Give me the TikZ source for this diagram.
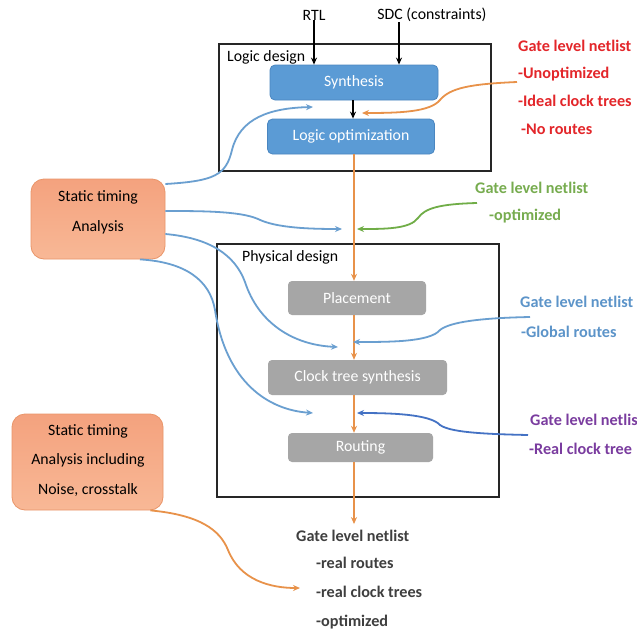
\documentclass[tikz,border=0pt]{standalone}
\usepackage{fontspec}
\setmainfont{Carlito}
\usetikzlibrary{arrows.meta,calc}
\definecolor{bluefill}{HTML}{5B9BD5}
\definecolor{blueedge}{HTML}{4A86C0}
\definecolor{greyfill}{HTML}{A6A6A6}
\definecolor{orangeline}{HTML}{E8924A}
\definecolor{blueline}{HTML}{6A9FD0}
\definecolor{darkblueline}{HTML}{4472C4}
\definecolor{greenline}{HTML}{70AD47}
\definecolor{redtext}{HTML}{E3262A}
\definecolor{greentext}{HTML}{77AC4F}
\definecolor{bluetext}{HTML}{5C94C9}
\definecolor{purpletext}{HTML}{7A3C9F}
\definecolor{darktext}{HTML}{3F3F3F}
\definecolor{statop}{HTML}{F4A27E}
\definecolor{stabot}{HTML}{F8B896}
\definecolor{staedge}{HTML}{E99569}
\tikzset{
  base/.style={font=\fontsize{15.8}{19}\selectfont, inner sep=0pt},
  frame/.style={draw=black!85, line width=1.1pt},
  bluebox/.style={base, draw=blueedge, fill=bluefill, rounded corners=5pt, text=white, line width=0.8pt},
  greybox/.style={base, fill=greyfill, rounded corners=4pt, text=white},
  stabox/.style={draw=staedge, top color=statop, bottom color=stabot, rounded corners=13pt, line width=0.8pt},
  statext/.style={base, align=center, font=\fontsize{15.8}{29.5}\selectfont},
  lbl/.style={base, anchor=west},
  blk/.style={-{Stealth[length=7pt,width=6pt]}, line width=1.6pt, black},
  oflow/.style={-{Stealth[length=7pt,width=6pt]}, line width=1.8pt, orangeline},
  bcurve/.style={-{Stealth[length=7pt,width=6pt]}, line width=1.8pt, blueline},
  ocurve/.style={-{Stealth[length=7pt,width=6pt]}, line width=1.8pt, orangeline},
  gcurve/.style={-{Stealth[length=7pt,width=6pt]}, line width=1.8pt, greenline},
  dcurve/.style={-{Stealth[length=7pt,width=6pt]}, line width=1.8pt, darkblueline},
}
\begin{document}
\begin{tikzpicture}[x=1pt,y=-1pt]
\useasboundingbox (0,0) rectangle (637,632);
\fill[white] (0,0) rectangle (637,632);

% frames
\node[frame, minimum width=272pt, minimum height=127pt, inner sep=0pt] (ldbox) at (355,107.5) {};
\node[frame, minimum width=282pt, minimum height=253pt, inner sep=0pt] (pdbox) at (358,370.5) {};
\node[lbl] (ldlbl) at (227,57) {Logic design};
\node[lbl] (pdlbl) at (242,257) {Physical design};

% inputs
\node[base] (rtl) at (314,15) {RTL};
\node[base] (sdc) at (432,15) {SDC (constraints)};

% process boxes
\node[bluebox, minimum width=168pt, minimum height=35pt] (syn) at (354,82.5) {Synthesis};
\node[bluebox, minimum width=167pt, minimum height=35pt] (lopt) at (351,136.5) {Logic optimization};
\node[greybox, minimum width=138pt, minimum height=34pt] (plc) at (357,298) {Placement};
\node[greybox, minimum width=179pt, minimum height=35pt] (cts) at (357.5,377.5) {Clock tree synthesis};
\node[greybox, minimum width=145pt, minimum height=29pt] (rout) at (360.5,447.5) {Routing};

% STA boxes
\node[stabox, minimum width=134pt, minimum height=80pt] (sta1) at (98,219) {};
\node[statext] (sta1t) at (98,212.5) {Static timing\\Analysis};
\node[stabox, minimum width=151pt, minimum height=96pt] (sta2) at (87.5,462) {};
\node[statext] (sta2t) at (88,460.5) {Static timing\\Analysis including\\Noise, crosstalk};

% side labels
\begin{scope}[every node/.style={lbl, font=\fontsize{16.2}{19}\selectfont\bfseries}]
\node[text=redtext] (r1) at (518,46) {Gate level netlist};
\node[text=redtext] (r2) at (518,74) {-Unoptimized};
\node[text=redtext] (r3) at (518,101) {-Ideal clock trees};
\node[text=redtext] (r4) at (521,129) {-No routes};
\node[text=greentext] (g1) at (475,188) {Gate level netlist};
\node[text=greentext] (g2) at (489,216) {-optimized};
\node[text=bluetext] (b1) at (520,302) {Gate level netlist};
\node[text=bluetext] (b2) at (521,332) {-Global routes};
\node[text=purpletext] (p1) at (530,420) {Gate level netlis};
\node[text=purpletext] (p2) at (529,449) {-Real clock tree};
\node[text=darktext] (f1) at (296,536) {Gate level netlist};
\node[text=darktext] (f2) at (316,563) {-real routes};
\node[text=darktext] (f3) at (316,592) {-real clock trees};
\node[text=darktext] (f4) at (316,622) {-optimized};
\end{scope}

% black arrows
\draw[blk] (rtl.south) -- (rtl.south |- syn.north);
\draw[blk] ([xshift=-33pt]sdc.south) -- ([xshift=-33pt]sdc.south |- syn.north);
\draw[blk] ([xshift=-1pt]syn.south) -- ([xshift=-1pt]syn.south |- lopt.north);

% orange flow
\coordinate (t1) at (354,154);
\draw[oflow] (t1) -- (t1 |- plc.north);
\draw[oflow] (plc.south -| t1) -- (t1 |- cts.north);
\draw[oflow] (cts.south -| t1) -- (t1 |- rout.north);
\draw[oflow] (rout.south -| t1) -- ([yshift=6pt]f1.north -| t1);

% target coordinates
\coordinate (a1) at (313,107);
\coordinate (a2) at (342,229);
\coordinate (a3) at (338,347);
\coordinate (a4) at (313,413);
\coordinate (ao) at (362,113);
\coordinate (ag) at (357,229);
\coordinate (ab) at (353,342);
\coordinate (ad) at (357,413);
\coordinate (af) at (300,588);

% blue curves from STA
\draw[bcurve] ([yshift=35pt]sta1.east) .. controls (215,181) and (226,175) .. (232,150)
   .. controls (240,118) and (270,108) .. (a1);
\draw[bcurve] ([yshift=8pt]sta1.east) .. controls (200,211) and (240,211) .. (258,219)
   .. controls (276,228) and (310,229) .. (a2);
\draw[bcurve] ([yshift=-15pt]sta1.east) .. controls (210,238) and (235,255) .. (245,282)
   .. controls (258,322) and (292,345) .. (a3);
\draw[bcurve] ([xshift=42pt]sta1.south) .. controls (185,262) and (210,280) .. (215,310)
   .. controls (226,382) and (268,410) .. (a4);

% label curves
\draw[ocurve] ([xshift=-1pt,yshift=-8pt]r2.west) .. controls (470,84) and (450,88) .. (440,100)
   .. controls (430,112) and (400,113) .. (ao);
\draw[gcurve] ([xshift=2pt,yshift=-15pt]g1.west) .. controls (440,204) and (425,208) .. (418,218)
   .. controls (410,229) and (385,229) .. (ag);
\draw[bcurve] ([xshift=10pt,yshift=-15pt]b1.west) .. controls (480,318) and (450,322) .. (440,330)
   .. controls (430,342) and (390,342) .. (ab);
\draw[dcurve] ([xshift=-2pt,yshift=-15pt]p1.west) .. controls (480,434) and (450,432) .. (440,425)
   .. controls (430,414) and (390,413) .. (ad);
\draw[ocurve] ([xshift=-13pt]sta2.south east) .. controls (200,515) and (220,530) .. (228,550)
   .. controls (240,580) and (270,588) .. (af);
\end{tikzpicture}
\end{document}
